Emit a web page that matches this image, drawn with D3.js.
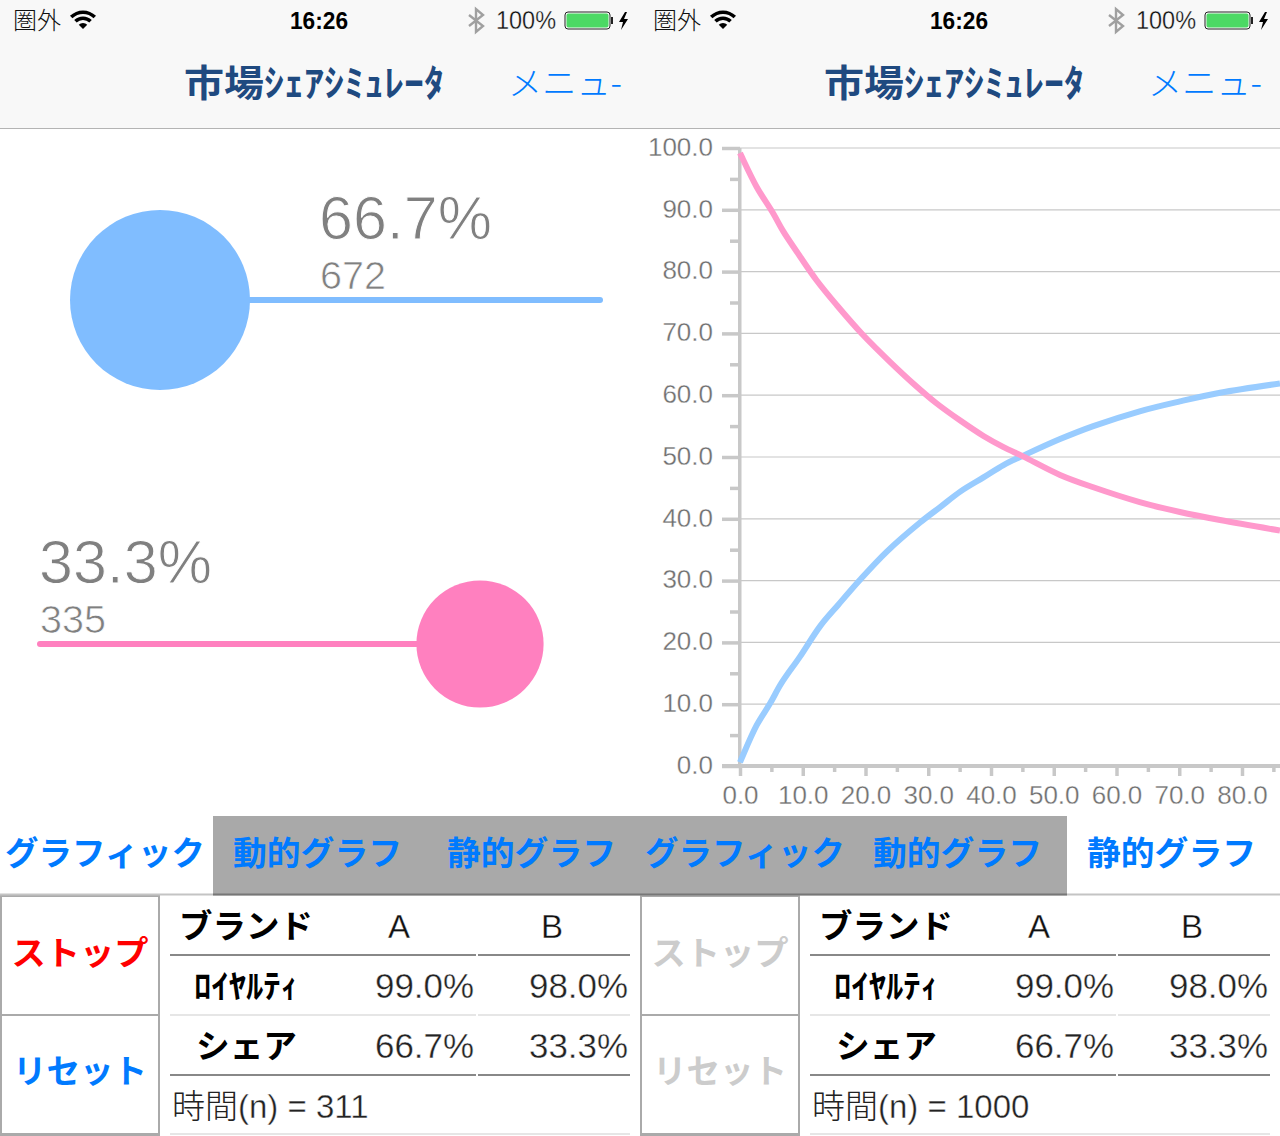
<!DOCTYPE html>
<html>
<head>
<meta charset="utf-8">
<style>
  html, body { margin: 0; padding: 0; background: #fff; }
  svg { display: block; }
  text { font-family: "Liberation Sans", "Noto Sans CJK JP", sans-serif; }
  .jp { font-family: "Noto Sans CJK JP", sans-serif; }
</style>
<script src="https://cdn.jsdelivr.net/npm/d3@7"></script>
</head>
<body>
<script>
// curve points: [time, share]
const seriesA = [[0, 0.6], [0.27, 1.25], [2.66, 6.6], [4.78, 10.1], [6.6, 13.4], [9.56, 17.7], [12.75, 22.6], [15.67, 26.1], [19.1, 30.1], [23.4, 34.7], [28.7, 39.4], [31.9, 41.9], [35.1, 44.4], [38.8, 46.7], [42, 48.7], [45.1, 50.2], [51, 52.9], [56.3, 55], [63.7, 57.4], [70.1, 59], [76.5, 60.4], [86.05, 61.9]];
const seriesB = [[0, 99.2], [0.27, 98.6], [2.66, 93.7], [5.3, 89.4], [6.9, 86.5], [9, 83.3], [12.2, 78.6], [15.4, 74.6], [19.65, 69.7], [23.9, 65.4], [27.6, 61.9], [31.3, 58.7], [35.1, 55.9], [38.8, 53.4], [42, 51.6], [45.1, 50.1], [51, 47.1], [56.3, 45.1], [63.7, 42.7], [70.1, 41.1], [76.5, 39.8], [86.05, 38.1]];
const yTicks = [0, 10, 20, 30, 40, 50, 60, 70, 80, 90, 100];
const xTicks = [0, 10, 20, 30, 40, 50, 60, 70, 80];
const minorTicks = [5, 15, 25, 35, 45, 55, 65, 75, 85];
const shares = [66.7, 33.3];
const counts = [672, 335];
const loyalty = ["99.0%", "98.0%"];
const shareLabels = ["66.7%", "33.3%"];
const tabs = ["グラフィック", "動的グラフ", "静的グラフ"];
const times = [311, 1000];

const BLUE = "#007aff", NAVY = "#1f4a80";
const svg = d3.select("body").append("svg").attr("width", 1280).attr("height", 1136);

function label(g, x, y, str, size, fill, opts = {}) {
  const t = g.append("text").attr("x", x).attr("y", y).attr("font-size", size).attr("fill", fill)
      .attr("text-anchor", opts.anchor || "start").text(str);
  if (opts.cls) t.attr("class", opts.cls);
  if (opts.weight) t.attr("font-weight", opts.weight);
  if (opts.len) t.attr("textLength", opts.len).attr("lengthAdjust", "spacingAndGlyphs");
  // a thin stroke in the background colour makes the regular face read as a light one
  if (opts.thin) t.attr("stroke", opts.bg || "#fff").attr("stroke-width", opts.thin);
  return t;
}

function header(g) {
  g.append("rect").attr("width", 640).attr("height", 128).attr("fill", "#f8f8f8");
  g.append("rect").attr("y", 128).attr("width", 640).attr("height", 1).attr("fill", "#b4b4b4");
  label(g, 13, 29, "圏外", 23.5, "#111", {cls: "jp", weight: 300, len: 48});

  const wifi = g.append("g").attr("transform", "translate(83,29)").attr("fill", "#000");
  const arc = d3.arc().startAngle(-0.78).endAngle(0.78);
  [[9, 12.5], [15, 18.5]].forEach(([r0, r1]) => {
    wifi.append("path").attr("d", arc({innerRadius: r0, outerRadius: r1}));
  });
  wifi.append("path").attr("d", arc({innerRadius: 0, outerRadius: 6}));

  label(g, 319, 29, "16:26", 24, "#000", {anchor: "middle", weight: "bold", len: 58});
  g.append("path").attr("fill", "none").attr("stroke", "#a0a0a0").attr("stroke-width", 2.4)
      .attr("d", "M469,15 L483,26 L476,32 L476,9 L483,15 L469,26");
  label(g, 496, 29, "100%", 25, "#111", {len: 60, thin: 0.3, bg: "#f8f8f8"});

  g.append("rect").attr("x", 565).attr("y", 12).attr("width", 45).attr("height", 17).attr("rx", 3)
      .attr("fill", "none").attr("stroke", "#222").attr("stroke-width", 1);
  g.append("rect").attr("x", 566.5).attr("y", 13.5).attr("width", 42).attr("height", 14).attr("rx", 2).attr("fill", "#4cd964");
  g.append("rect").attr("x", 611).attr("y", 17).attr("width", 2).attr("height", 7).attr("fill", "#222");
  g.append("path").attr("fill", "#000").attr("d", "M625,12 L619,22 L623,22 L621,30 L628,19 L624,19 L627,12 Z");

  label(g, 184, 97, "市場ｼｪｱｼﾐｭﾚｰﾀ", 37, NAVY, {cls: "jp", weight: "bold", len: 260});
  label(g, 508, 95, "メニュ-", 33, BLUE, {cls: "jp", weight: 300, len: 114});
}

function tabBar(g) {
  const xs = [5, 233, 447];
  tabs.forEach((t, i) => label(g, xs[i], 865, t, 33.5, BLUE, {cls: "jp", weight: "bold", len: i ? 169 : 200}));
}

function controls(g, stopColor, resetColor, time) {
  g.append("rect").attr("x", 1).attr("y", 896).attr("width", 158).attr("height", 119).attr("fill", "#fff").attr("stroke", "#aaa").attr("stroke-width", 2);
  g.append("rect").attr("x", 1).attr("y", 1015).attr("width", 158).attr("height", 119).attr("fill", "#fff").attr("stroke", "#aaa").attr("stroke-width", 2);
  g.append("rect").attr("x", 0).attr("y", 1133).attr("width", 160).attr("height", 3).attr("fill", "#aaa");
  label(g, 80, 965, "ストップ", 33, stopColor, {anchor: "middle", cls: "jp", weight: "bold", len: 137});
  label(g, 80, 1083, "リセット", 33, resetColor, {anchor: "middle", cls: "jp", weight: "bold", len: 134});

  [[955, "#888"], [1015, "#e6e6e6"], [1075, "#888"]].forEach(([y, c]) => {
    g.append("rect").attr("x", 170).attr("y", y - 1).attr("width", 306).attr("height", 2).attr("fill", c);
    g.append("rect").attr("x", 478).attr("y", y - 1).attr("width", 152).attr("height", 2).attr("fill", c);
  });
  g.append("rect").attr("x", 170).attr("y", 1133).attr("width", 460).attr("height", 2).attr("fill", "#e6e6e6");

  label(g, 179, 938, "ブランド", 32.5, "#000", {cls: "jp", weight: "bold", len: 134});
  label(g, 399, 938, "A", 33, "#111", {anchor: "middle", thin: 0.3});
  label(g, 552, 938, "B", 33, "#111", {anchor: "middle", thin: 0.3});
  label(g, 194, 998, "ﾛｲﾔﾙﾃｨ", 33, "#000", {cls: "jp", weight: "bold", len: 104});
  label(g, 196, 1058, "シェア", 33, "#000", {cls: "jp", weight: "bold", len: 101});
  loyalty.forEach((v, i) => label(g, i ? 628 : 474, 998, v, 35.5, "#222", {anchor: "end", thin: 0.4, len: 99}));
  shareLabels.forEach((v, i) => label(g, i ? 628 : 474, 1058, v, 35.5, "#222", {anchor: "end", thin: 0.4, len: 99}));
  const t = label(g, 172, 1118, "", 33, "#222");
  t.append("tspan").attr("class", "jp").attr("font-weight", 300).text("時間");
  t.append("tspan").attr("stroke", "#fff").attr("stroke-width", 0.4).text("(n) = " + time);
}

// ---- left screen
const left = svg.append("g");
header(left);

const r = d3.scaleSqrt().domain([0, shares[0]]).range([0, 90]);
left.append("line").attr("x1", 160).attr("x2", 600).attr("y1", 300).attr("y2", 300)
    .attr("stroke", "#80bdff").attr("stroke-width", 6).attr("stroke-linecap", "round");
left.append("circle").attr("cx", 160).attr("cy", 300).attr("r", r(shares[0])).attr("fill", "#80bdff");
label(left, 319, 239, shares[0] + "%", 62, "#808080", {len: 173, thin: 1});
label(left, 320, 289, counts[0], 38, "#808080", {len: 66, thin: 0.7});

left.append("line").attr("x1", 40).attr("x2", 480).attr("y1", 644).attr("y2", 644)
    .attr("stroke", "#ff80bf").attr("stroke-width", 6).attr("stroke-linecap", "round");
left.append("circle").attr("cx", 480).attr("cy", 644).attr("r", r(shares[1])).attr("fill", "#ff80bf");
label(left, 39, 583, shares[1] + "%", 62, "#808080", {len: 173, thin: 1});
label(left, 40, 633, counts[1], 38, "#808080", {len: 66, thin: 0.7});

// ---- right screen
const right = svg.append("g").attr("transform", "translate(640,0)");
header(right);

const x = d3.scaleLinear().domain([0, 80]).range([100, 602]);
const y = d3.scaleLinear().domain([0, 100]).range([766, 148]);

const grid = right.append("g");
grid.selectAll("line").data(yTicks.slice(1)).join("line")
    .attr("x1", x(0)).attr("x2", 640).attr("y1", y).attr("y2", y)
    .attr("stroke", "#c8c8c8").attr("stroke-width", 1.2);

const axisStroke = sel => {
  sel.select(".domain").remove();
  sel.selectAll("line").attr("stroke", "#c8c8c8").attr("stroke-width", 3.5);
  sel.selectAll("text").attr("fill", "#707070").attr("font-size", 26).attr("stroke", "#fff").attr("stroke-width", 0.3);
};

right.append("g").attr("transform", `translate(${x(0)},0)`)
    .call(d3.axisLeft(y).tickValues(yTicks).tickSize(18).tickPadding(9).tickFormat(d3.format(".1f")))
    .call(axisStroke)
    .call(g => g.selectAll("text").attr("dy", "0.28em"));
right.append("g").attr("transform", `translate(${x(0)},0)`)
    .call(d3.axisLeft(y).tickValues(yTicks.slice(0, -1).map(d => d + 5)).tickSize(10).tickFormat(""))
    .call(axisStroke);
right.append("g").attr("transform", "translate(0,766)")
    .call(d3.axisBottom(x).tickValues(xTicks).tickSize(10).tickPadding(10).tickFormat(d3.format(".1f")))
    .call(axisStroke);
right.append("g").attr("transform", "translate(0,766)")
    .call(d3.axisBottom(x).tickValues(minorTicks).tickSize(6).tickFormat(""))
    .call(axisStroke);
right.append("rect").attr("x", x(0) - 2).attr("y", y(100)).attr("width", 3.5).attr("height", 620).attr("fill", "#c8c8c8");
right.append("rect").attr("x", x(0) - 18).attr("y", 764).attr("width", 558).attr("height", 4).attr("fill", "#c8c8c8");

const line = d3.line().curve(d3.curveCatmullRom).x(d => x(d[0])).y(d => y(d[1]));
right.append("path").datum(seriesA).attr("fill", "none").attr("stroke", "#99ccff").attr("stroke-width", 6).attr("d", line);
right.append("path").datum(seriesB).attr("fill", "none").attr("stroke", "#ff99cc").attr("stroke-width", 6).attr("d", line);

controls(left, "#ff0000", BLUE, times[0]);
controls(right, "#cccccc", "#cccccc", times[1]);

// ---- tab bars, the gray strip runs across both screens so they sit on top of it
svg.append("rect").attr("x", 0).attr("y", 893.5).attr("width", 1280).attr("height", 2).attr("fill", "#c4c4c4");
svg.append("rect").attr("x", 213).attr("y", 816).attr("width", 854).attr("height", 78).attr("fill", "#a9a9a9");
svg.append("rect").attr("x", 213).attr("y", 893.5).attr("width", 854).attr("height", 2).attr("fill", "#777");
tabBar(svg.append("g"));
tabBar(svg.append("g").attr("transform", "translate(640,0)"));
</script>
</body>
</html>
